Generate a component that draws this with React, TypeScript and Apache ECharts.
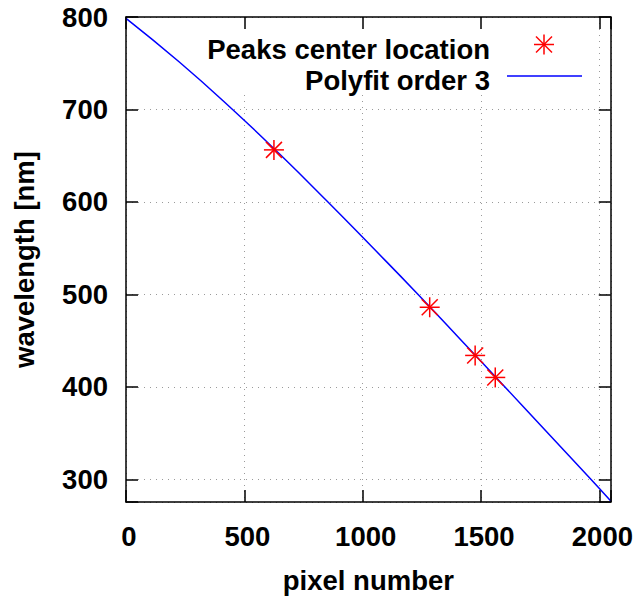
import React, { useEffect, useRef } from "react";
import * as echarts from "echarts";

// Calibration: detector pixel -> wavelength
const peakPixels = [625, 1283, 1475, 1560];
const peakWavelengths = [656.3, 486.1, 434.0, 410.2];

// Cubic polynomial fit, sampled along the detector
const fitPixels = [0, 224, 449, 650, 849, 1040, 1230, 1412, 1595, 1778, 1961, 2048];
const fitWavelengths = [798.6, 751.6, 700.3, 651.5, 601, 551.2, 501, 451.5, 401.5, 351.2, 300.8, 276.5];

const xTickStep = 500;
const yTickStep = 100;
const legendLabels = ["Peaks center location", "Polyfit order 3"];
const xTitle = "pixel number";
const yTitle = "wavelength [nm]";

const FONT = '"Liberation Sans", Arial, Helvetica, sans-serif';
const FS = 27.5;

function starLines(cx: number, cy: number, style: any, z?: number) {
  const a = 10;
  const d = 8;
  const extra = z == null ? {} : { z };
  return [
    { type: "line", ...extra, shape: { x1: cx - a, y1: cy, x2: cx + a, y2: cy }, style },
    { type: "line", ...extra, shape: { x1: cx, y1: cy - a, x2: cx, y2: cy + a }, style },
    { type: "line", ...extra, shape: { x1: cx - d, y1: cy - d, x2: cx + d, y2: cy + d }, style },
    { type: "line", ...extra, shape: { x1: cx - d, y1: cy + d, x2: cx + d, y2: cy - d }, style },
  ];
}

export default function App() {
  const ref = useRef<HTMLDivElement>(null);

  useEffect(() => {
    if (!ref.current) return;
    const chart = echarts.init(ref.current, null, { renderer: "svg" });

    const axisLine = { onZero: false, lineStyle: { color: "#000", width: 1.5 } };
    const axisTick = { inside: true, length: 12, lineStyle: { color: "#000", width: 1.5 } };
    const gridLine = { show: true, lineStyle: { color: "#9a9a9a", width: 1, type: [1, 5] } };
    const labelStyle = { fontSize: FS, fontWeight: "bold", fontFamily: FONT, color: "#000" };
    const starStyle = { stroke: "#ff0000", lineWidth: 1.5, fill: "none" };

    chart.setOption({
      animation: false,
      backgroundColor: "#ffffff",
      textStyle: { fontFamily: FONT },
      grid: { left: 126, top: 17, right: 24, bottom: 96 },
      xAxis: [
        {
          type: "value",
          position: "bottom",
          min: 0,
          max: 2048,
          splitNumber: 5,
          name: xTitle,
          nameLocation: "middle",
          nameGap: 64,
          nameTextStyle: labelStyle,
          axisLine,
          axisTick,
          axisLabel: {
            ...labelStyle,
            margin: 20,
            padding: [0, 0, 0, 6],
            formatter: (v: number) => (v % xTickStep === 0 ? String(v) : ""),
          },
          splitLine: gridLine,
          z: 0,
        },
        {
          type: "value",
          position: "top",
          min: 0,
          max: 2048,
          splitNumber: 5,
          axisLine,
          axisTick,
          axisLabel: { show: false },
          splitLine: { show: false },
          z: 3,
        },
      ],
      yAxis: [
        {
          type: "value",
          position: "left",
          min: 275.5,
          max: 800,
          splitNumber: 5,
          name: yTitle,
          nameLocation: "middle",
          nameGap: 88,
          nameTextStyle: labelStyle,
          axisLine,
          axisTick,
          axisLabel: {
            ...labelStyle,
            margin: 18,
            padding: [10, 0, 0, 0],
            formatter: (v: number) => (v % yTickStep === 0 ? String(v) : ""),
          },
          splitLine: gridLine,
          z: 0,
        },
        {
          type: "value",
          position: "right",
          min: 275.5,
          max: 800,
          splitNumber: 5,
          axisLine,
          axisTick,
          axisLabel: { show: false },
          splitLine: { show: false },
          z: 3,
        },
      ],
      series: [
        {
          type: "line",
          xAxisIndex: 0,
          yAxisIndex: 0,
          data: fitPixels.map((x, i) => [x, fitWavelengths[i]]),
          showSymbol: false,
          smooth: true,
          lineStyle: { color: "#0000ff", width: 1.5 },
          z: 2,
        },
        {
          type: "custom",
          xAxisIndex: 0,
          yAxisIndex: 0,
          data: peakPixels.map((x, i) => [x, peakWavelengths[i]]),
          renderItem: (_params: any, api: any) => {
            const p = api.coord([api.value(0), api.value(1)]);
            return { type: "group", children: starLines(p[0], p[1], starStyle) };
          },
          z: 4,
        },
      ],
      graphic: [
        {
          type: "rect",
          z: 1,
          shape: { x: 200, y: 18, width: 392, height: 75 },
          style: { fill: "#ffffff" },
        },
        {
          type: "text",
          z: 5,
          x: 490,
          y: 49,
          style: {
            text: legendLabels[0],
            fontSize: FS,
            fontWeight: "bold",
            fontFamily: FONT,
            fill: "#000",
            align: "right",
            verticalAlign: "middle",
          },
        },
        {
          type: "text",
          z: 5,
          x: 490,
          y: 80,
          style: {
            text: legendLabels[1],
            fontSize: FS,
            fontWeight: "bold",
            fontFamily: FONT,
            fill: "#000",
            align: "right",
            verticalAlign: "middle",
          },
        },
        ...starLines(544, 44.5, starStyle, 5),
        {
          type: "line",
          z: 5,
          shape: { x1: 507, y1: 76, x2: 582, y2: 76 },
          style: { stroke: "#0000ff", lineWidth: 1.5 },
        },
      ],
    });

    return () => chart.dispose();
  }, []);

  return <div ref={ref} style={{ width: 636, height: 599, position: "absolute", left: 0, top: 0 }} />;
}
